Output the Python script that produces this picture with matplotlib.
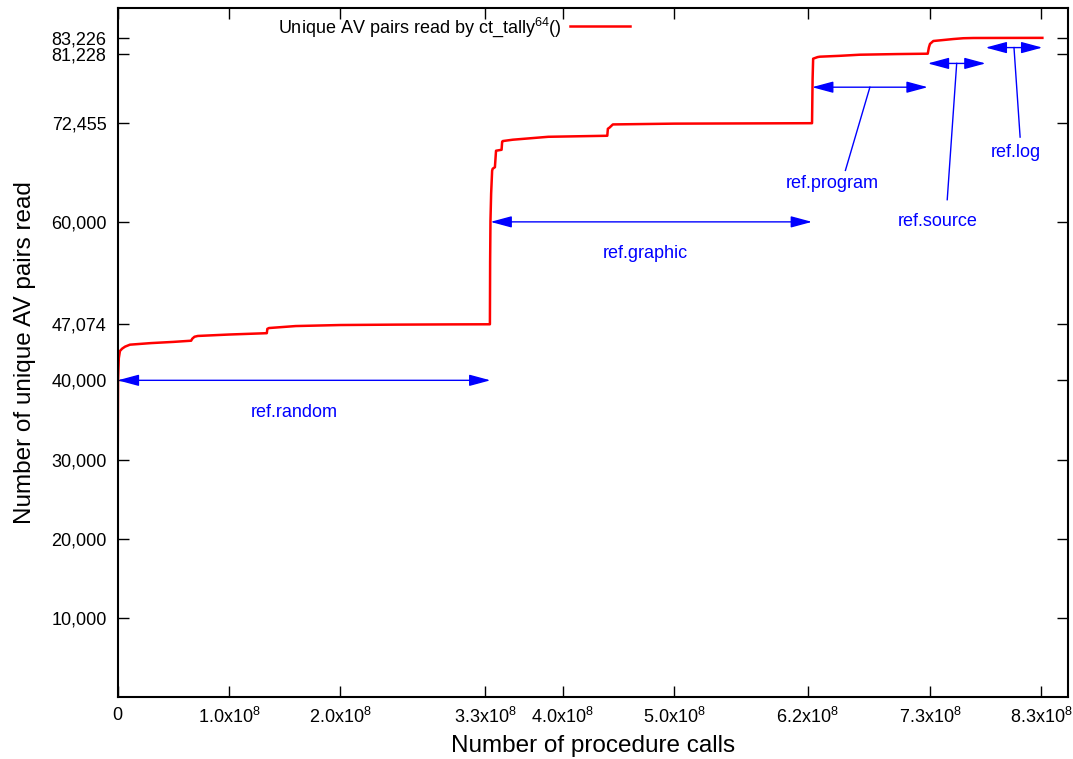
import matplotlib
matplotlib.use("Agg")
import matplotlib.pyplot as plt
from matplotlib.patches import ArrowStyle

plt.rcParams['font.family'] = ['Liberation Sans', 'DejaVu Sans']
plt.rcParams['mathtext.fontset'] = 'custom'
plt.rcParams['mathtext.rm'] = 'Liberation Sans'
plt.rcParams['mathtext.it'] = 'Liberation Sans'

# curve (x in units of 1e8 calls)
calls = [0, 0.0, 0.003, 0.01, 0.02, 0.04, 0.066, 0.11, 0.3, 0.5, 0.66, 0.67, 0.69, 0.72, 1.0, 1.34, 1.345, 1.36, 1.6, 2.0, 2.5, 3.0, 3.345,
         3.347, 3.35, 3.356, 3.365, 3.37, 3.39, 3.40, 3.45, 3.455, 3.46, 3.55, 3.87, 4.40, 4.405, 4.42, 4.45, 5.0, 6.24,
         6.245, 6.25, 6.29, 6.31, 6.49, 6.67, 7.0, 7.28,
         7.29, 7.30, 7.33, 7.51, 7.60, 7.69, 8.0, 8.31]
pairs = [0, 30000, 40000, 42800, 43700, 44000, 44250, 44500, 44700, 44850, 45000, 45250, 45500, 45600, 45780, 45950, 46500, 46600, 46850, 46980, 47030, 47060, 47074,
         55000, 60150, 63560, 66460, 66710, 66900, 68980, 69100, 70110, 70200, 70370, 70740, 70870, 71750, 71900, 72300, 72400, 72455,
         78000, 80600, 80800, 80850, 80960, 81100, 81180, 81228,
         82000, 82460, 82830, 83080, 83180, 83210, 83220, 83226]

xticks = [0, 1.0, 2.0, 3.3, 4.0, 5.0, 6.2, 7.3, 8.3]
xticklabels = ['0', r'1.0x10$^8$', r'2.0x10$^8$', r'3.3x10$^8$', r'4.0x10$^8$', r'5.0x10$^8$',
               r'6.2x10$^8$', r'7.3x10$^8$', r'8.3x10$^8$']
yticks = [10000, 20000, 30000, 40000, 47074, 60000, 72455, 81228, 83226]

# benchmark ranges: name, start, end, arrow y, label x, label y, pointer (x, y) or None
ranges = [
    ('ref.random', 0.0, 3.35, 40000, 1.59, 36000, None),
    ('ref.graphic', 3.35, 6.24, 60000, 4.74, 56000, None),
    ('ref.program', 6.24, 7.28, 77000, 6.42, 64900, (6.54, 66500)),
    ('ref.source', 7.28, 7.80, 80000, 7.365, 60000, (7.455, 62800)),
    ('ref.log', 7.80, 8.31, 82000, 8.075, 68800, (8.11, 70700)),
]

fig = plt.figure(figsize=(10.73, 7.59), dpi=100)
ax = fig.add_axes([0.1097, 0.0814, 0.8856, 0.9081])

x = [c * 1e8 for c in calls]
ax.plot(x, pairs, color='red', lw=1.8, label=r'Unique AV pairs read by ct_tally$^{64}$()')

blue = '#0000ff'
style = ArrowStyle('<|-|>', head_length=1.3, head_width=0.35)
for name, a, b, ya, lx, ly, ptr in ranges:
    ax.annotate('', xy=(b * 1e8, ya), xytext=(a * 1e8, ya),
                arrowprops=dict(arrowstyle=style, mutation_scale=10, color=blue, lw=1, shrinkA=0, shrinkB=0))
    ax.text(lx * 1e8, ly, name, color=blue, fontsize=13, ha='center', va='center')
    if ptr is not None:
        ax.plot([(a + b) / 2 * 1e8, ptr[0] * 1e8], [ya, ptr[1]], color=blue, lw=1)

ax.set_xlim(0, 8.54e8)
ax.set_ylim(0, 87000)
ax.set_xticks([t * 1e8 for t in xticks])
ax.set_xticklabels(xticklabels, fontsize=13)
ax.set_yticks(yticks)
ax.set_yticklabels(['{:,}'.format(v) for v in yticks], fontsize=13)
ax.tick_params(direction='in', length=8, width=1, top=True, right=True)
ax.tick_params(axis='y', pad=8)
ax.tick_params(axis='x', pad=7)
for s in ax.spines.values():
    s.set_linewidth(1.5)

ax.set_xlabel('Number of procedure calls', fontsize=17.5, labelpad=6)
ax.set_ylabel('Number of unique AV pairs read', fontsize=17.5, labelpad=11)

ax.legend(loc='center', bbox_to_anchor=(0.423, 0.9644), bbox_transform=fig.transFigure,
          frameon=False, markerfirst=False, handlelength=3.3, handletextpad=0.5, fontsize=13)

fig.savefig('out.png', dpi=100)
